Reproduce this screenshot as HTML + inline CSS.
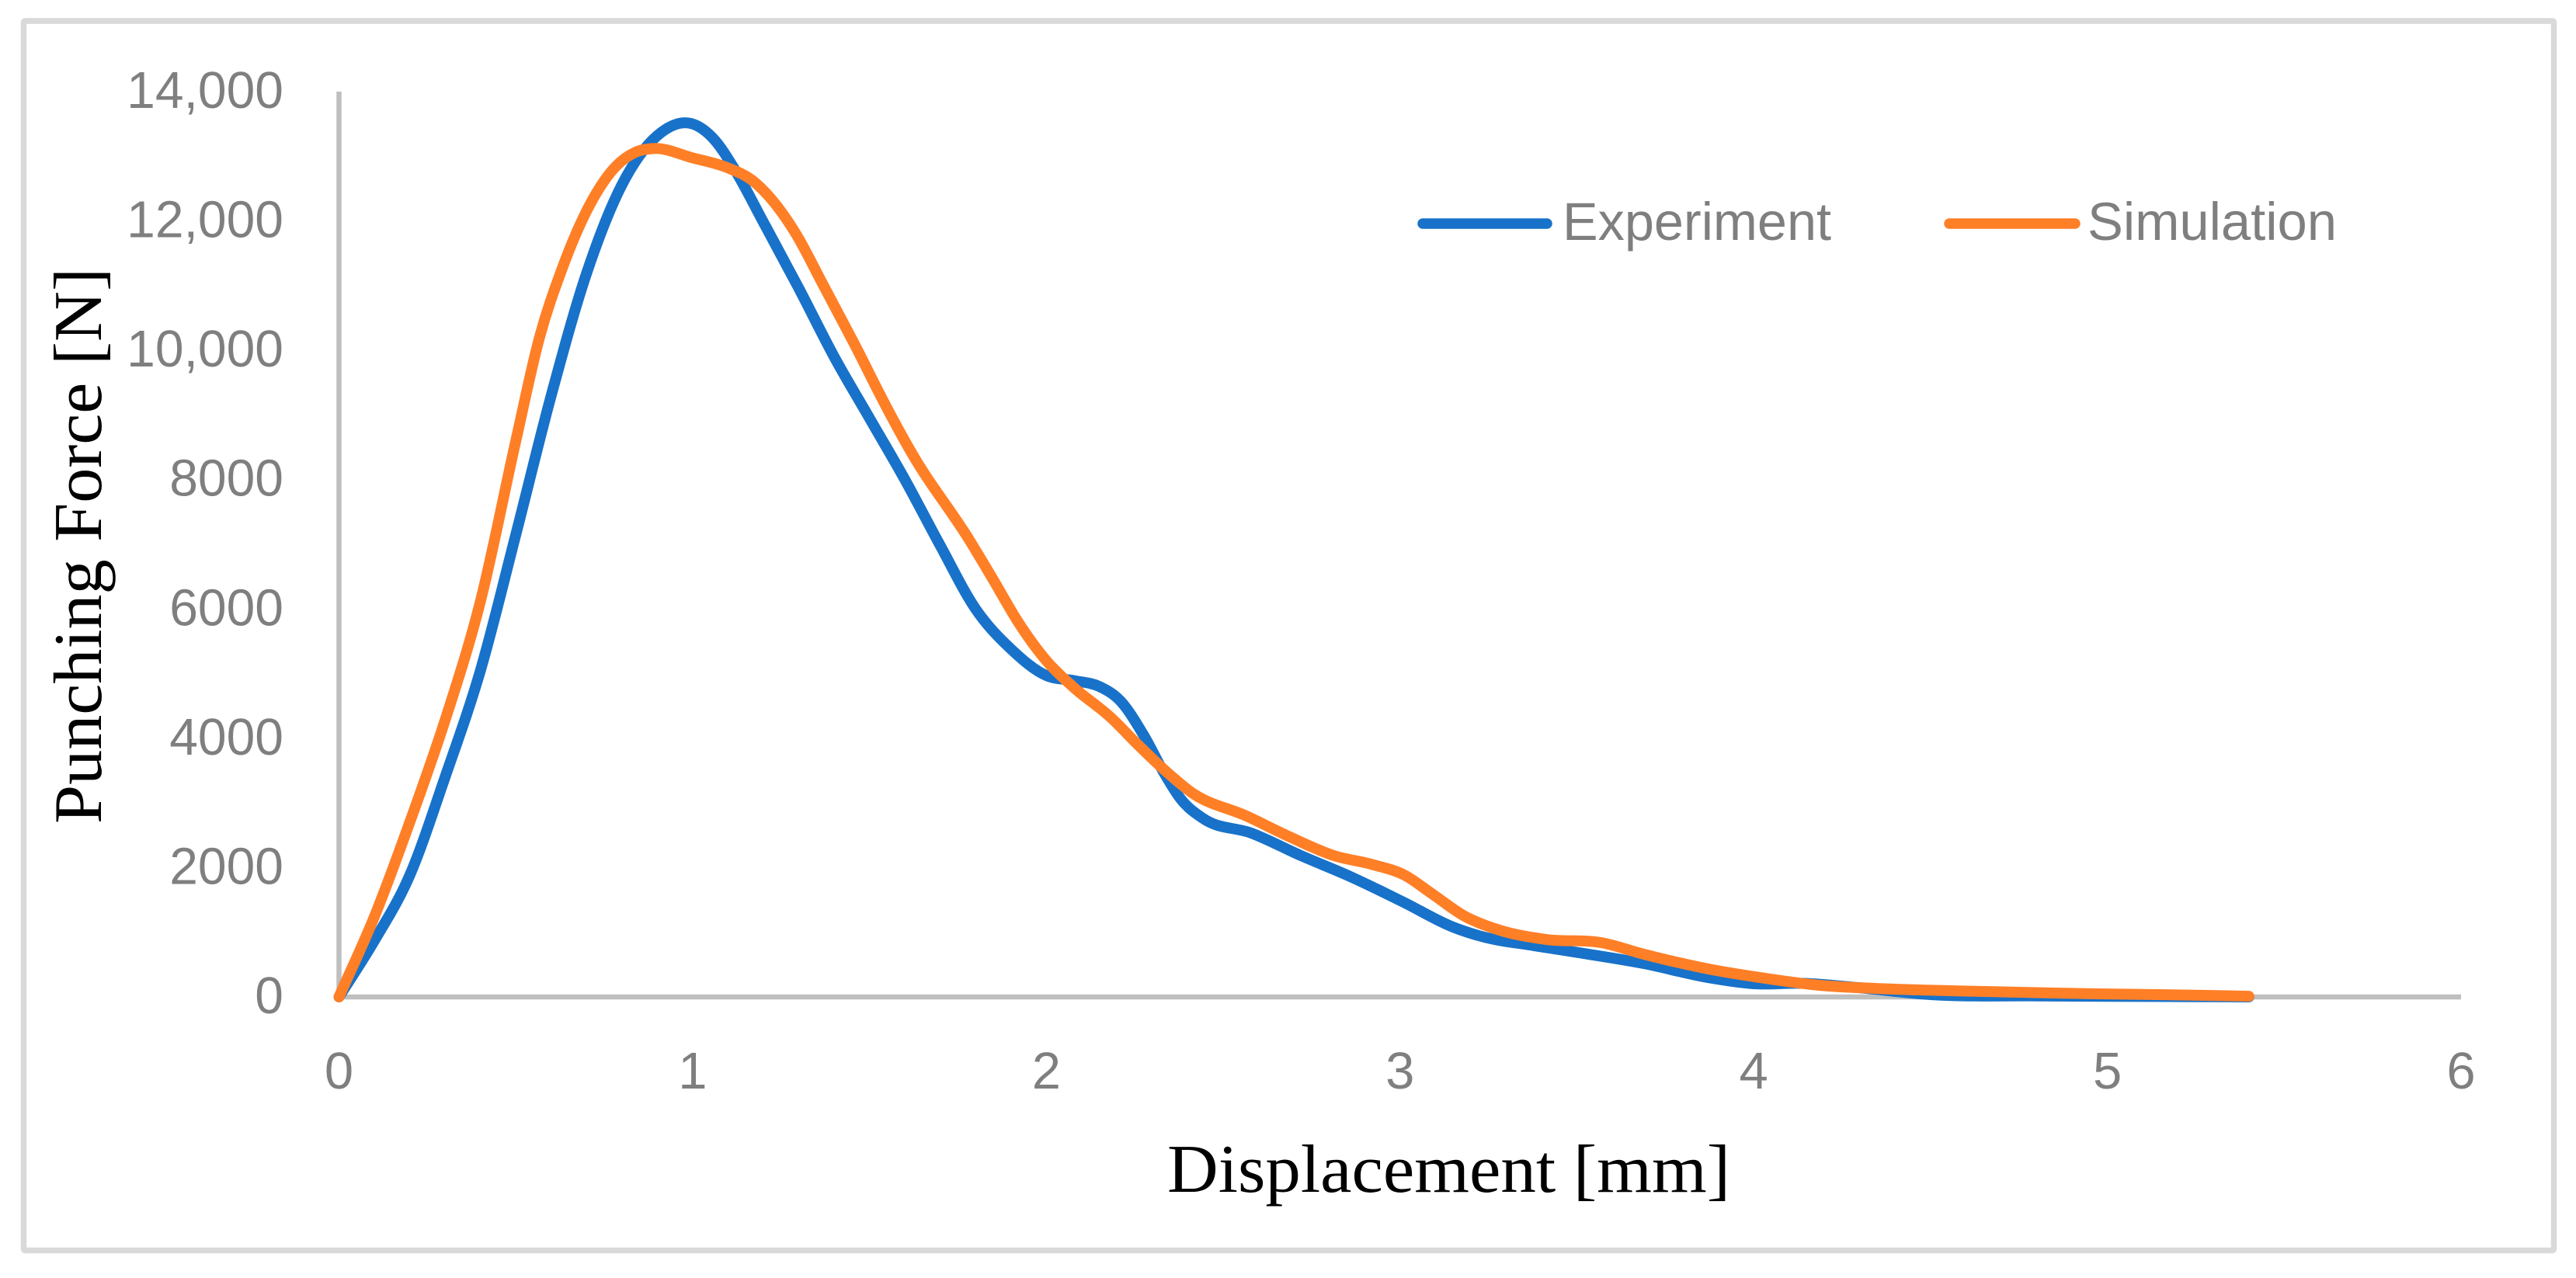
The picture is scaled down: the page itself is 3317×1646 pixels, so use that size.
<!DOCTYPE html>
<html lang="en">
<head>
<meta charset="utf-8">
<title>Punching Force vs Displacement</title>
<style>
html,body{margin:0;padding:0;background:#fff;}
svg{display:block;}
.tick{font-family:"Liberation Sans",sans-serif;font-size:67px;fill:#7f7f7f;}
.legend-text{font-family:"Liberation Sans",sans-serif;font-size:69px;fill:#7f7f7f;}
.axis-title{font-family:"Liberation Serif",serif;font-size:88px;fill:#000;}
</style>
</head>
<body>
<svg id="chart" xmlns="http://www.w3.org/2000/svg" width="3317" height="1646" viewBox="0 0 3317 1646">
  <rect x="0" y="0" width="3317" height="1646" fill="#ffffff"/>
  <rect x="30.5" y="27" width="3258" height="1583.5" rx="2" fill="none" stroke="#d9d9d9" stroke-width="7.5"/>
  <g id="axes"></g>
  <g id="series"></g>
  <text class="axis-title" x="1503" y="1535" textLength="725" lengthAdjust="spacingAndGlyphs">Displacement [mm]</text>
  <text class="axis-title" transform="translate(130,1061) rotate(-90)" x="0" y="0" textLength="716" lengthAdjust="spacingAndGlyphs">Punching Force [N]</text>
  <g>
    <line x1="1832" y1="288" x2="1992" y2="288" stroke="#1872c9" stroke-width="13.5" stroke-linecap="round"/>
    <text class="legend-text" x="2012" y="309" textLength="346" lengthAdjust="spacingAndGlyphs">Experiment</text>
    <line x1="2510" y1="288" x2="2672" y2="288" stroke="#ff7f27" stroke-width="13.5" stroke-linecap="round"/>
    <text class="legend-text" x="2688" y="309" textLength="321" lengthAdjust="spacingAndGlyphs">Simulation</text>
  </g>
</svg>
<script>
const xTickValues = [0, 1, 2, 3, 4, 5, 6];
const xTickLabels = ["0", "1", "2", "3", "4", "5", "6"];
const yTickValues = [0, 2000, 4000, 6000, 8000, 10000, 12000, 14000];
const yTickLabels = ["0", "2000", "4000", "6000", "8000", "10,000", "12,000", "14,000"];

const experimentDisplacement = [0, 0.1, 0.2, 0.3, 0.4, 0.5, 0.6, 0.7, 0.8, 0.9, 1.0, 1.06, 1.12, 1.2, 1.3, 1.4, 1.5, 1.6, 1.7, 1.8, 1.9, 2.0, 2.08, 2.15, 2.21, 2.274, 2.335, 2.38, 2.443, 2.58, 2.72, 2.86, 3.01, 3.15, 3.23, 3.38, 3.52, 3.69, 3.87, 4.0, 4.14, 4.295, 4.5, 4.81, 5.2, 5.4];
const experimentForce = [0, 870, 1880, 3400, 5050, 7150, 9300, 11190, 12560, 13320, 13500, 13265, 12785, 11980, 10960, 9900, 8950, 8000, 6980, 6000, 5380, 4970, 4890, 4800, 4574, 4058, 3445, 3061, 2761, 2533, 2185, 1860, 1465, 1080, 936, 792, 672, 516, 300, 204, 210, 144, 36, 15, 5, 0];

const simulationDisplacement = [0, 0.1, 0.2, 0.3, 0.4, 0.5, 0.567, 0.63, 0.713, 0.783, 0.837, 0.89, 1.0, 1.1, 1.168, 1.222, 1.292, 1.369, 1.457, 1.55, 1.62, 1.783, 1.85, 1.92, 2.0, 2.074, 2.182, 2.259, 2.335, 2.412, 2.566, 2.689, 2.813, 2.92, 3.014, 3.09, 3.183, 3.275, 3.414, 3.568, 3.69, 3.872, 4.03, 4.185, 4.343, 4.654, 4.968, 5.28, 5.4];
const simulationForce = [0, 1240, 2700, 4280, 6120, 8600, 10200, 11250, 12290, 12845, 13060, 13120, 12975, 12820, 12630, 12340, 11800, 11010, 10100, 9100, 8405, 7060, 6450, 5800, 5200, 4802, 4322, 3900, 3505, 3157, 2797, 2473, 2185, 2050, 1880, 1597, 1248, 1044, 888, 840, 660, 432, 290, 180, 132, 84, 48, 24, 10];

const SVG_NS = "http://www.w3.org/2000/svg";
function xScale(v) { return 436.5 + v * (3169 - 436.5) / 6; }
function yScale(v) { return 1284 - v * (1284 - 118) / 14000; }

const axes = document.getElementById("axes");
const seriesGroup = document.getElementById("series");

const yAxis = document.createElementNS(SVG_NS, "line");


yAxis.setAttribute("x1", xScale(0));
yAxis.setAttribute("x2", xScale(0));
yAxis.setAttribute("y1", yScale(14000));
yAxis.setAttribute("y2", yScale(0) + 3);
yAxis.setAttribute("stroke", "#bfbfbf");
yAxis.setAttribute("stroke-width", "6.5");
axes.appendChild(yAxis);

const xAxis = document.createElementNS(SVG_NS, "line");


xAxis.setAttribute("x1", xScale(0));
xAxis.setAttribute("x2", xScale(6));
xAxis.setAttribute("y1", yScale(0));
xAxis.setAttribute("y2", yScale(0));
xAxis.setAttribute("stroke", "#bfbfbf");
xAxis.setAttribute("stroke-width", "6.5");
axes.appendChild(xAxis);

xTickValues.forEach(function (v, i) {
  const t = document.createElementNS(SVG_NS, "text");
  
  
  t.setAttribute("class", "tick");
  t.setAttribute("transform", "translate(" + xScale(v) + ",1402)");
  t.setAttribute("text-anchor", "middle");
  t.textContent = xTickLabels[i];
  axes.appendChild(t);
});

yTickValues.forEach(function (v, i) {
  const t = document.createElementNS(SVG_NS, "text");
  
  
  t.setAttribute("class", "tick");
  t.setAttribute("transform", "translate(365," + (yScale(v) + 21) + ") scale(0.985,1)");
  t.setAttribute("text-anchor", "end");
  t.textContent = yTickLabels[i];
  axes.appendChild(t);
});

function smoothPath(xs, ys) {
  const n = xs.length;
  const m = [];
  for (let i = 0; i < n; i++) {
    if (i === 0) {
      m.push((ys[1] - ys[0]) / (xs[1] - xs[0]));
    } else if (i === n - 1) {
      m.push((ys[n - 1] - ys[n - 2]) / (xs[n - 1] - xs[n - 2]));
    } else {
      const h0 = xs[i] - xs[i - 1];
      const h1 = xs[i + 1] - xs[i];
      const s0 = (ys[i] - ys[i - 1]) / h0;
      const s1 = (ys[i + 1] - ys[i]) / h1;
      m.push((s0 * h1 + s1 * h0) / (h0 + h1));
    }
  }
  let d = "M" + xScale(xs[0]).toFixed(2) + " " + yScale(ys[0]).toFixed(2);
  for (let i = 0; i < n - 1; i++) {
    const h = xs[i + 1] - xs[i];
    const c1x = xScale(xs[i] + h / 3);
    const c1y = yScale(ys[i] + m[i] * h / 3);
    const c2x = xScale(xs[i + 1] - h / 3);
    const c2y = yScale(ys[i + 1] - m[i + 1] * h / 3);
    d += "C" + c1x.toFixed(2) + " " + c1y.toFixed(2) + " " + c2x.toFixed(2) + " " + c2y.toFixed(2) + " " + xScale(xs[i + 1]).toFixed(2) + " " + yScale(ys[i + 1]).toFixed(2);
  }
  return d;
}

const experimentLine = document.createElementNS(SVG_NS, "path");


experimentLine.setAttribute("d", smoothPath(experimentDisplacement, experimentForce));
experimentLine.setAttribute("fill", "none");
experimentLine.setAttribute("stroke", "#1872c9");
experimentLine.setAttribute("stroke-width", "14");
experimentLine.setAttribute("stroke-linecap", "round");
experimentLine.setAttribute("stroke-linejoin", "round");
seriesGroup.appendChild(experimentLine);

const simulationLine = document.createElementNS(SVG_NS, "path");


simulationLine.setAttribute("d", smoothPath(simulationDisplacement, simulationForce));
simulationLine.setAttribute("fill", "none");
simulationLine.setAttribute("stroke", "#ff7f27");
simulationLine.setAttribute("stroke-width", "14");
simulationLine.setAttribute("stroke-linecap", "round");
simulationLine.setAttribute("stroke-linejoin", "round");
seriesGroup.appendChild(simulationLine);
</script>
</body>
</html>
